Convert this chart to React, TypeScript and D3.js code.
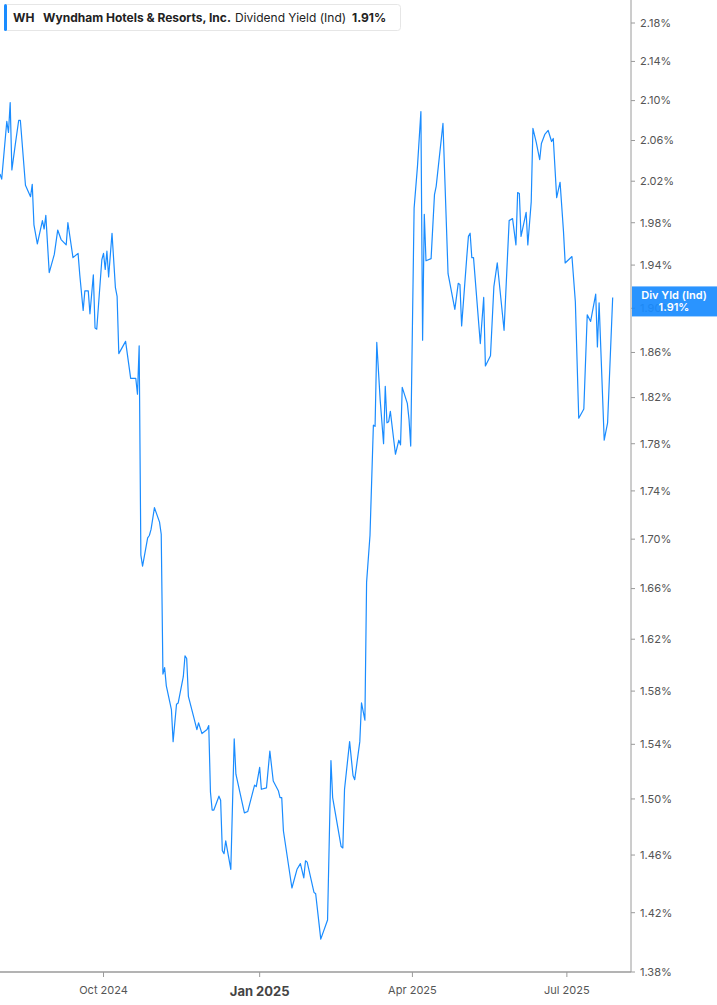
import React from 'react';
import * as d3 from 'd3';

const dates: string[] = [
  '2024-08-01','2024-08-02','2024-08-05','2024-08-06','2024-08-07','2024-08-08','2024-08-10','2024-08-12','2024-08-13','2024-08-16',
  '2024-08-19','2024-08-20','2024-08-21','2024-08-23','2024-08-26','2024-08-27','2024-08-28','2024-08-30','2024-09-02','2024-09-04',
  '2024-09-06','2024-09-09','2024-09-10','2024-09-13','2024-09-16','2024-09-17','2024-09-19','2024-09-20','2024-09-22','2024-09-23',
  '2024-09-25','2024-09-26','2024-09-27','2024-09-30','2024-10-01','2024-10-02','2024-10-03','2024-10-04','2024-10-06','2024-10-08',
  '2024-10-09','2024-10-10','2024-10-14','2024-10-17','2024-10-20','2024-10-21','2024-10-22','2024-10-23','2024-10-24','2024-10-27',
  '2024-10-28','2024-10-29','2024-10-31','2024-11-03','2024-11-04','2024-11-05','2024-11-06','2024-11-07','2024-11-10','2024-11-11',
  '2024-11-13','2024-11-14','2024-11-17','2024-11-18','2024-11-19','2024-11-20','2024-11-23','2024-11-25','2024-11-26','2024-11-28',
  '2024-12-01','2024-12-02','2024-12-03','2024-12-04','2024-12-05','2024-12-08','2024-12-09','2024-12-10','2024-12-11','2024-12-12',
  '2024-12-15','2024-12-17','2024-12-18','2024-12-23','2024-12-25','2024-12-29','2024-12-30','2025-01-01','2025-01-02','2025-01-05',
  '2025-01-07','2025-01-09','2025-01-12','2025-01-13','2025-01-14','2025-01-15','2025-01-20','2025-01-23','2025-01-25','2025-01-27',
  '2025-01-28','2025-01-29','2025-02-02','2025-02-03','2025-02-06','2025-02-10','2025-02-12','2025-02-13','2025-02-18','2025-02-19',
  '2025-02-20','2025-02-23','2025-02-25','2025-02-26','2025-03-01','2025-03-02','2025-03-04','2025-03-05','2025-03-07','2025-03-09',
  '2025-03-10','2025-03-11','2025-03-13','2025-03-15','2025-03-16','2025-03-17','2025-03-18','2025-03-19','2025-03-22','2025-03-24',
  '2025-03-25','2025-03-26','2025-03-29','2025-03-30','2025-03-31','2025-04-02','2025-04-04','2025-04-06','2025-04-07','2025-04-08',
  '2025-04-09','2025-04-12','2025-04-14','2025-04-15','2025-04-19','2025-04-22','2025-04-26','2025-04-28','2025-04-29','2025-04-30',
  '2025-05-03','2025-05-04','2025-05-05','2025-05-06','2025-05-07','2025-05-11','2025-05-13','2025-05-14','2025-05-17','2025-05-19',
  '2025-05-21','2025-05-25','2025-05-28','2025-05-30','2025-06-01','2025-06-02','2025-06-03','2025-06-04','2025-06-07','2025-06-08',
  '2025-06-10','2025-06-11','2025-06-13','2025-06-15','2025-06-16','2025-06-18','2025-06-20','2025-06-22','2025-06-23','2025-06-25',
  '2025-06-27','2025-06-29','2025-06-30','2025-07-04','2025-07-06','2025-07-08','2025-07-11','2025-07-13','2025-07-15','2025-07-18',
  '2025-07-19','2025-07-20','2025-07-23','2025-07-25','2025-07-28'
];

const yields: number[] = [
  2.027,2.022,2.079,2.068,2.098,2.031,2.056,2.080,2.080,2.016,
  2.005,2.017,1.978,1.960,1.982,1.974,1.987,1.933,1.950,1.973,
  1.964,1.959,1.980,1.947,1.951,1.931,1.898,1.916,1.916,1.895,
  1.931,1.882,1.881,1.945,1.951,1.936,1.953,1.929,1.970,1.919,
  1.911,1.859,1.870,1.837,1.837,1.823,1.866,1.687,1.678,1.701,
  1.703,1.708,1.726,1.714,1.704,1.593,1.598,1.584,1.566,1.542,
  1.570,1.571,1.591,1.607,1.605,1.576,1.561,1.551,1.556,1.548,
  1.551,1.554,1.505,1.492,1.492,1.502,1.499,1.463,1.461,1.470,
  1.450,1.544,1.518,1.490,1.491,1.510,1.509,1.523,1.507,1.508,
  1.535,1.513,1.506,1.501,1.501,1.477,1.437,1.450,1.454,1.444,
  1.456,1.455,1.434,1.433,1.402,1.415,1.528,1.501,1.466,1.465,
  1.507,1.542,1.517,1.514,1.542,1.571,1.558,1.665,1.703,1.796,
  1.795,1.869,1.818,1.780,1.830,1.798,1.799,1.808,1.771,1.783,
  1.779,1.829,1.815,1.801,1.778,1.994,2.035,2.089,1.871,1.988,
  1.944,1.946,2.007,2.015,2.077,1.932,1.899,1.923,1.922,1.884,
  1.947,1.967,1.970,1.947,1.947,1.868,1.910,1.848,1.857,1.920,
  1.942,1.880,1.982,1.984,1.959,2.009,2.008,1.967,1.990,1.959,
  2.000,2.072,2.058,2.041,2.057,2.066,2.070,2.059,2.062,2.004,
  2.019,1.972,1.942,1.948,1.906,1.802,1.810,1.894,1.888,1.913,
  1.865,1.905,1.783,1.798,1.910
];

const yTicks: number[] = [1.38,1.42,1.46,1.50,1.54,1.58,1.62,1.66,1.70,1.74,1.78,1.82,1.86,1.90,1.94,1.98,2.02,2.06,2.10,2.14,2.18];
const xTickDates: string[] = ['2024-10-01','2025-01-01','2025-04-01','2025-07-01'];
const xTickLabels: string[] = ['Oct 2024','Jan 2025','Apr 2025','Jul 2025'];
const lastValue = 1.91;

const W = 717, H = 1005;
const plotRight = 631, plotBottom = 972, plotTop = 23;
const BLUE = '#1a8cff';
const FONT = 'Inter, Roboto, "Noto Sans", sans-serif';

export default function App() {
  const parse = d3.timeParse('%Y-%m-%d');
  const data = dates.map((d, i) => ({ date: parse(d) as Date, v: yields[i] }));
  const x = d3.scaleTime()
    .domain([new Date(2024, 7, 1), new Date(2025, 7, 7, 19)])
    .range([0, plotRight]);
  const y = d3.scaleLog().domain([1.38, 2.18]).range([plotBottom, plotTop]);
  const line = d3.line<{ date: Date; v: number }>()
    .x(d => x(d.date))
    .y(d => y(d.v));
  const ly = y(lastValue);

  return (
    <svg width={W} height={H} style={{ position: 'fixed', left: 0, top: 0, background: '#fff' }} fontFamily={FONT}>
      <rect x={0} y={0} width={W} height={H} fill="#fff" />
      {/* y axis */}
      <line x1={plotRight} x2={plotRight} y1={0} y2={plotBottom} stroke="#9a9a9a" strokeWidth={1} />
      {yTicks.map(t => (
        <g key={t} transform={`translate(${plotRight},${y(t)})`}>
          <line x1={0} x2={4} stroke="#9a9a9a" />
          <text x={9} dy="0.35em" fontSize={11} fill="#555">{t.toFixed(2)}%</text>
        </g>
      ))}
      {/* x axis */}
      <line x1={0} x2={plotRight} y1={plotBottom} y2={plotBottom} stroke="#9a9a9a" strokeWidth={1.5} />
      {xTickDates.map((d, i) => {
        const px = x(parse(d) as Date);
        const bold = xTickLabels[i].startsWith('Jan');
        return (
          <g key={d} transform={`translate(${px},${plotBottom})`}>
            <line y1={0} y2={5} stroke="#9a9a9a" />
            <text y={bold ? 24 : 22} textAnchor="middle" fontSize={bold ? 13 : 11}
              fontWeight={bold ? 700 : 400} fill={bold ? '#444' : '#555'}>{xTickLabels[i]}</text>
          </g>
        );
      })}
      {/* series */}
      <path d={line(data) || ''} fill="none" stroke={BLUE} strokeWidth={1.2} strokeLinejoin="round" />
      {/* last value label */}
      <g opacity={0.93}>
        <rect x={plotRight + 1} y={ly - 11} width={W - plotRight - 1} height={30} fill={BLUE} />
        <text x={674} y={ly + 2} textAnchor="middle" fontSize={11} fontWeight={600} fill="#fff">Div Yld (Ind)</text>
        <text x={674} y={ly + 14} textAnchor="middle" fontSize={11} fontWeight={600} fill="#fff">{lastValue.toFixed(2)}%</text>
      </g>
      {/* legend */}
      <rect x={4.5} y={4.5} width={396} height={26} rx={3} fill="#fff" stroke="#e6e6e6" />
      <rect x={4} y={4} width={3} height={27} rx={1.5} fill={BLUE} />
      <text y={21.5} fontSize={12} fill="#222">
        <tspan x={13} fontWeight={700}>WH</tspan>
        <tspan x={43} fontWeight={700}>Wyndham Hotels &amp; Resorts, Inc.</tspan>
        <tspan x={235} fontWeight={400}>Dividend Yield (Ind)</tspan>
        <tspan x={352} fontWeight={700}>{lastValue.toFixed(2)}%</tspan>
      </text>
    </svg>
  );
}
